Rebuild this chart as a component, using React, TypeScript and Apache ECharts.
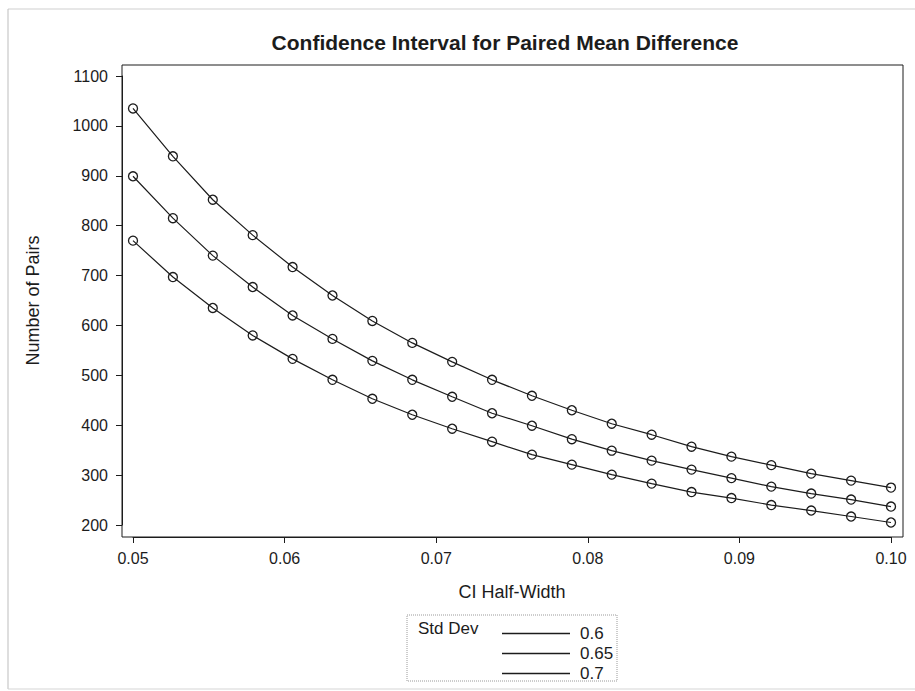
import React, { useEffect, useRef } from "react";
import * as echarts from "echarts";

const halfWidths: number[] = [
  0.05, 0.052632, 0.055263, 0.057895, 0.060526, 0.063158, 0.065789, 0.068421, 0.071053, 0.073684,
  0.076316, 0.078947, 0.081579, 0.084211, 0.086842, 0.089474, 0.092105, 0.094737, 0.097368, 0.1,
];
const pairsSd060: number[] = [
  770, 697, 635, 580, 533, 491, 453, 421, 393, 367, 341, 321, 301, 283, 266, 254, 240, 229, 217, 205,
];
const pairsSd065: number[] = [
  899, 815, 740, 677, 620, 573, 529, 491, 457, 424, 399, 372, 349, 329, 311, 294, 277, 263, 251, 237,
];
const pairsSd070: number[] = [
  1035, 939, 852, 781, 717, 660, 609, 565, 527, 491, 459, 430, 403, 381, 357, 337, 320, 303, 289, 275,
];
const stdDevLabels: string[] = ["0.6", "0.65", "0.7"];
const xTicks: number[] = [0.05, 0.06, 0.07, 0.08, 0.09, 0.1];

const FONT = "'Liberation Sans', Arial, Helvetica, sans-serif";
const INK = "#1c1c1c";

export default function App() {
  const ref = useRef<HTMLDivElement>(null);
  useEffect(() => {
    if (!ref.current) return;
    const chart = echarts.init(ref.current, undefined, { renderer: "svg" });
    const seriesData = [pairsSd060, pairsSd065, pairsSd070];
    chart.setOption({
      animation: false,
      backgroundColor: "#ffffff",
      title: {
        text: "Confidence Interval for Paired Mean Difference",
        left: 500,
        textAlign: "center",
        top: 27,
        textStyle: { fontFamily: FONT, fontWeight: "bold", fontSize: 21, color: INK },
      },
      grid: { left: 133, right: 24, top: 76, bottom: 166 },
      xAxis: {
        type: "value",
        min: 0.05,
        max: 0.1,
        interval: 0.01,
        offset: 12,
        name: "CI Half-Width",
        nameLocation: "middle",
        nameGap: 46,
        nameTextStyle: { fontFamily: FONT, fontSize: 18, color: INK },
        axisLine: { show: true, lineStyle: { color: INK, width: 1 } },
        axisTick: { show: true, length: 6, lineStyle: { color: INK } },
        axisLabel: {
          fontFamily: FONT,
          fontSize: 16,
          color: INK,
          margin: 13,
          formatter: (v: number) => (xTicks.some((t) => Math.abs(t - v) < 1e-9) ? v.toFixed(2) : ""),
        },
        splitLine: { show: false },
      },
      yAxis: {
        type: "value",
        min: 200,
        max: 1100,
        interval: 100,
        offset: 11,
        name: "Number of Pairs",
        nameLocation: "middle",
        nameGap: 80,
        nameTextStyle: { fontFamily: FONT, fontSize: 18, color: INK },
        axisLine: { show: true, lineStyle: { color: INK, width: 1 } },
        axisTick: { show: true, length: 6, lineStyle: { color: INK } },
        axisLabel: {
          fontFamily: FONT,
          fontSize: 16,
          color: INK,
          margin: 14,
          formatter: (v: number) => String(v),
        },
        splitLine: { show: false },
      },
      legend: {
        orient: "vertical",
        left: 497,
        top: 620,
        icon: "rect",
        itemWidth: 68,
        itemHeight: 1.5,
        itemGap: 3,
        selectedMode: false,
        data: stdDevLabels,
        itemStyle: { color: INK, borderWidth: 0 },
        textStyle: { fontFamily: FONT, fontSize: 17, color: INK, padding: [0, 0, 0, 5] },
      },
      graphic: [
        {
          type: "rect",
          shape: { x: 122, y: 65, width: 781, height: 472 },
          style: { fill: "none", stroke: INK, lineWidth: 1 },
          silent: true,
        },
        {
          type: "rect",
          shape: { x: 407, y: 615, width: 210, height: 66 },
          style: { fill: "none", stroke: "#9a9a9a", lineWidth: 1, lineDash: [1, 1] },
          silent: true,
        },
        {
          type: "text",
          x: 418,
          y: 620,
          style: { text: "Std Dev", fontFamily: FONT, fontSize: 17, fill: INK },
          silent: true,
        },
        {
          type: "line",
          shape: { x1: 8, y1: 9, x2: 915, y2: 9 },
          style: { stroke: "#cfcfcf", lineWidth: 1 },
          silent: true,
        },
        {
          type: "line",
          shape: { x1: 8, y1: 9, x2: 8, y2: 689 },
          style: { stroke: "#bdbdbd", lineWidth: 1 },
          silent: true,
        },
        {
          type: "line",
          shape: { x1: 8, y1: 689, x2: 915, y2: 689 },
          style: { stroke: "#d5d5d5", lineWidth: 1 },
          silent: true,
        },
      ],
      series: stdDevLabels.map((name, k) => ({
        name,
        type: "line",
        data: halfWidths.map((x, i) => [x, seriesData[k][i]]),
        smooth: false,
        symbol: "circle",
        symbolSize: 9,
        lineStyle: { color: INK, width: 1.2 },
        itemStyle: { color: "rgba(255,255,255,0)", borderColor: INK, borderWidth: 1.3 },
        emphasis: { disabled: true },
      })),
    });
    return () => chart.dispose();
  }, []);
  return <div ref={ref} style={{ width: 915, height: 691, position: "absolute", left: 0, top: 0 }} />;
}
